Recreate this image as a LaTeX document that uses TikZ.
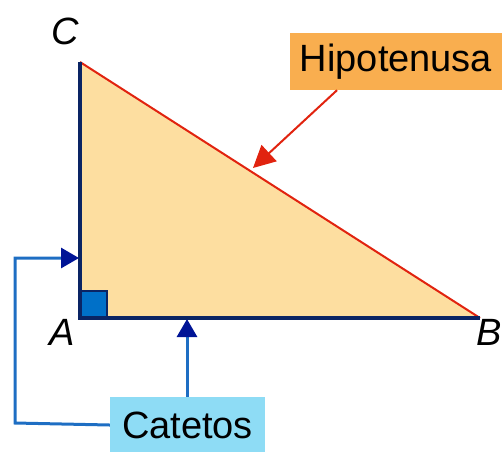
\documentclass[tikz,border=0pt]{standalone}
\usepackage{fontspec}
\setmainfont{Liberation Sans}
\usepackage{tikz}
\usetikzlibrary{arrows.meta}

\definecolor{triFill}{RGB}{253,222,160}
\definecolor{hypFill}{RGB}{249,174,79}
\definecolor{catFill}{RGB}{142,220,245}
\definecolor{legNavy}{RGB}{10,36,100}
\definecolor{lineBlue}{RGB}{30,110,195}
\definecolor{tipBlue}{RGB}{0,20,150}
\definecolor{squareBlue}{RGB}{0,112,200}
\definecolor{hypRed}{RGB}{225,35,15}

\begin{document}
\begin{tikzpicture}[x=1pt,y=-1pt]
\useasboundingbox (0,0) rectangle (502,451);
\coordinate (A) at (80,318);
\coordinate (B) at (480,318);
\coordinate (C) at (80,62);
\fill[triFill] (A) -- (B) -- (C) -- cycle;
\draw[fill=squareBlue,draw=legNavy,line width=2pt] (80,318) rectangle (107,291);
\draw[hypRed,line width=2pt] (C) -- (B);
\draw[legNavy,line width=3.5pt] (C) -- (A) -- (B);
\begin{scope}[every node/.style={font=\fontsize{38}{38}\selectfont\itshape}]
    \node (lA) at (62,332) {A};
    \node (lB) at (489,332) {B};
    \node (lC) at (65,31) {C};
\end{scope}
\begin{scope}[every node/.style={inner sep=0pt,font=\fontsize{38}{38}\selectfont}]
    \node[fill=hypFill,minimum width=212pt,minimum height=57pt] (hyp) at (396,61.5) {Hipotenusa};
    \node[fill=catFill,minimum width=155pt,minimum height=56pt] (cat) at (187.5,425) {Catetos};
\end{scope}
\coordinate (hyp_hit) at (253,168);
\coordinate (cat_up) at (187,319);
\coordinate (bend_low) at (15,423);
\coordinate (bend_high) at (15,258);
\coordinate (leg_hit) at (79,258);
\begin{scope}[red_edge/.style={draw=hypRed,line width=2pt,-{Triangle[length=22pt,width=22pt,color=hypRed]}},
              blue_edge/.style={draw=lineBlue,line width=3pt,-{Triangle[length=18pt,width=20pt,color=tipBlue]}}]
    \path (hyp.south) ++(-59,0) edge [red_edge] (hyp_hit);
    \path (cat.north) ++(-0.5,0) edge [blue_edge] (cat_up);
    \draw [blue_edge] (cat.west) -- (bend_low) -- (bend_high) -- (leg_hit);
\end{scope}
\end{tikzpicture}
\end{document}
